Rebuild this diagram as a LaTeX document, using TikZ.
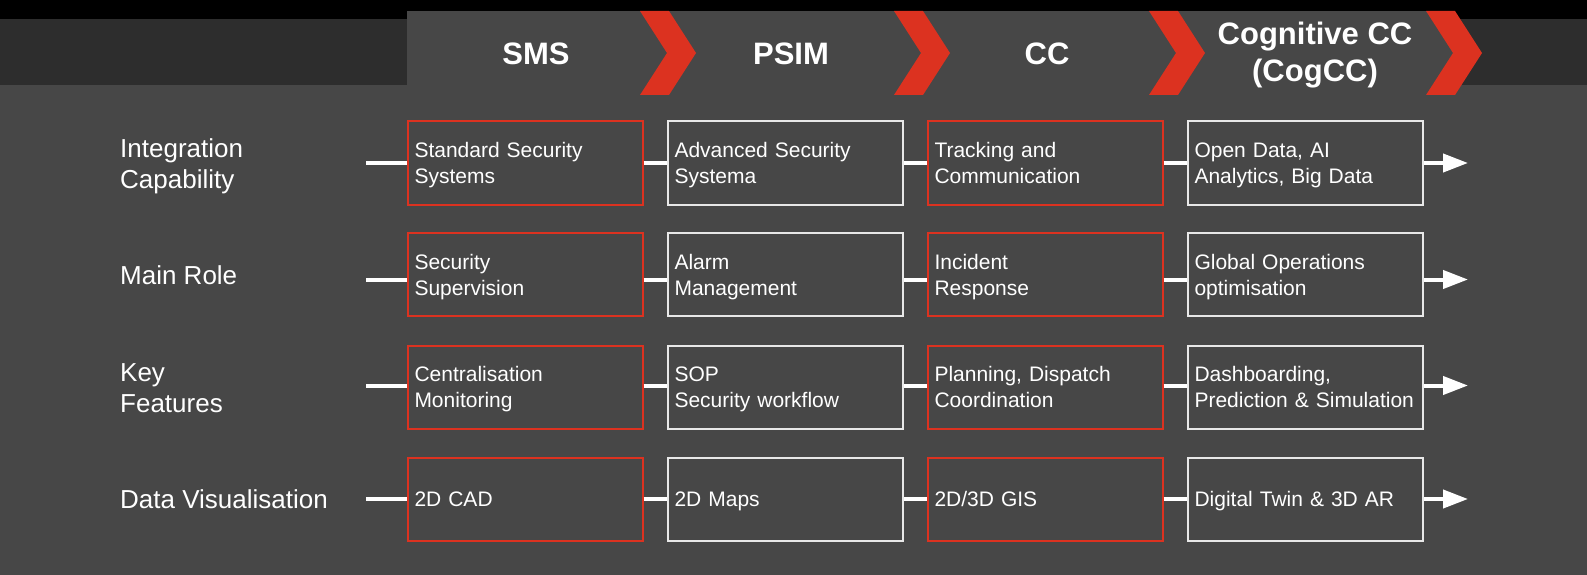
\documentclass[tikz,border=0pt]{standalone}
\usepackage{fontspec}
\setmainfont{Liberation Sans}
\usetikzlibrary{arrows.meta}
\definecolor{bggray}{RGB}{71,71,71}
\definecolor{bandgray}{RGB}{45,45,45}
\definecolor{chevred}{RGB}{220,50,32}
\definecolor{boxwhite}{RGB}{232,232,232}
\newcommand{\hdrchev}[1]{\fill[chevred] (#1,11) -- ++(29,0) -- ++(27,42)
  -- ++(-27,42) -- ++(-29,0) -- ++(27,-42) -- cycle;}
\newcommand{\cellstrut}{\rule[-5.5pt]{0pt}{26pt}}
\newcommand{\labstrut}{\rule[-6.2pt]{0pt}{31pt}}
\newcommand{\hdrstrut}{\rule[-7.4pt]{0pt}{37pt}}
\tikzset{
  cell/.style   ={draw, line width=2pt, minimum height=83pt, text width=221pt,
                  inner xsep=7pt, inner ysep=0pt, align=left, text=white,
                  font=\fontsize{21}{26}\selectfont,
                  execute at begin node=\cellstrut,
                  execute at end node=\cellstrut},
  cellR/.style  ={cell, draw=chevred},
  cellW/.style  ={cell, draw=boxwhite},
  lab/.style    ={anchor=west, align=left, inner sep=0pt, text=white,
                  font=\fontsize{26}{31}\selectfont,
                  execute at begin node=\labstrut,
                  execute at end node=\labstrut},
  hdr/.style    ={align=center, text=white, inner sep=0pt,
                  font=\fontsize{31}{37}\selectfont\bfseries,
                  execute at begin node=\hdrstrut,
                  execute at end node=\hdrstrut},
  link/.style   ={line width=4pt, white},
  arr/.style    ={-{Triangle[length=25pt, width=18pt]}, line width=4pt, white},
}

\begin{document}
\begin{tikzpicture}[x=1pt, y=-1pt]
  \useasboundingbox (0,0) rectangle (1587,575);
  % background and header band
  \fill[bggray] (0,0) rectangle (1587,575);
  \fill[black] (0,0) rectangle (1587,19);
  \fill[bandgray] (0,19) rectangle (1587,85);
  \fill[bggray] (407,11) rectangle (1455,85);
  \hdrchev{640}
  \hdrchev{894}
  \hdrchev{1149}
  \hdrchev{1426}
  \node[hdr] (hsms)  at (536,53) {SMS};
  \node[hdr] (hpsim) at (791,53) {PSIM};
  \node[hdr] (hcc)   at (1047,53) {CC};
  \node[hdr] (hcog)  at (1315,55) {Cognitive CC\\(CogCC)};
  % row labels
  \node[lab] (lab1) at (120,167) {Integration\\Capability};
  \node[lab] (lab2) at (120,275) {Main Role};
  \node[lab] (lab3) at (120,391) {Key\\Features};
  \node[lab] (lab4) at (120,499) {Data Visualisation};
  % row 1
  \node[cellR] (sms1)  at (525,163)  {Standard Security\\Systems};
  \node[cellW] (psim1) at (785,163)  {Advanced Security\\Systema};
  \node[cellR] (cc1)   at (1045,163) {Tracking and\\Communication};
  \node[cellW] (cog1)  at (1305,163) {Open Data, AI\\Analytics, Big Data};
  % row 2
  \node[cellR] (sms2)  at (525,274.5)  {Security\\Supervision};
  \node[cellW] (psim2) at (785,274.5)  {Alarm\\Management};
  \node[cellR] (cc2)   at (1045,274.5) {Incident\\Response};
  \node[cellW] (cog2)  at (1305,274.5) {Global Operations\\optimisation};
  % row 3
  \node[cellR] (sms3)  at (525,387)  {Centralisation\\Monitoring};
  \node[cellW] (psim3) at (785,387)  {SOP\\Security workflow};
  \node[cellR] (cc3)   at (1045,387) {Planning, Dispatch\\Coordination};
  \node[cellW] (cog3)  at (1305,387) {Dashboarding,\\Prediction \& Simulation};
  % row 4
  \node[cellR] (sms4)  at (525,499)  {2D CAD};
  \node[cellW] (psim4) at (785,499)  {2D Maps};
  \node[cellR] (cc4)   at (1045,499) {2D/3D GIS};
  \node[cellW] (cog4)  at (1305,499) {Digital Twin \& 3D AR};
  % connectors
  \coordinate (in1) at (366,163);    \coordinate (out1) at (1468,163);
  \coordinate (in2) at (366,279.5);  \coordinate (out2) at (1468,279.5);
  \coordinate (in3) at (366,385.5);  \coordinate (out3) at (1468,385.5);
  \coordinate (in4) at (366,499);    \coordinate (out4) at (1468,499);
  \draw[link] (in1) -- (sms1); \draw[link] (sms1) -- (psim1);
  \draw[link] (psim1) -- (cc1); \draw[link] (cc1) -- (cog1);
  \draw[arr] (cog1) -- (out1);
  \draw[link] (in2) -- (in2 -| sms2.west);
  \draw[link] (in2 -| sms2.east) -- (in2 -| psim2.west);
  \draw[link] (in2 -| psim2.east) -- (in2 -| cc2.west);
  \draw[link] (in2 -| cc2.east) -- (in2 -| cog2.west);
  \draw[arr] (in2 -| cog2.east) -- (out2);
  \draw[link] (in3) -- (in3 -| sms3.west);
  \draw[link] (in3 -| sms3.east) -- (in3 -| psim3.west);
  \draw[link] (in3 -| psim3.east) -- (in3 -| cc3.west);
  \draw[link] (in3 -| cc3.east) -- (in3 -| cog3.west);
  \draw[arr] (in3 -| cog3.east) -- (out3);
  \draw[link] (in4) -- (sms4); \draw[link] (sms4) -- (psim4);
  \draw[link] (psim4) -- (cc4); \draw[link] (cc4) -- (cog4);
  \draw[arr] (cog4) -- (out4);
\end{tikzpicture}
\end{document}
